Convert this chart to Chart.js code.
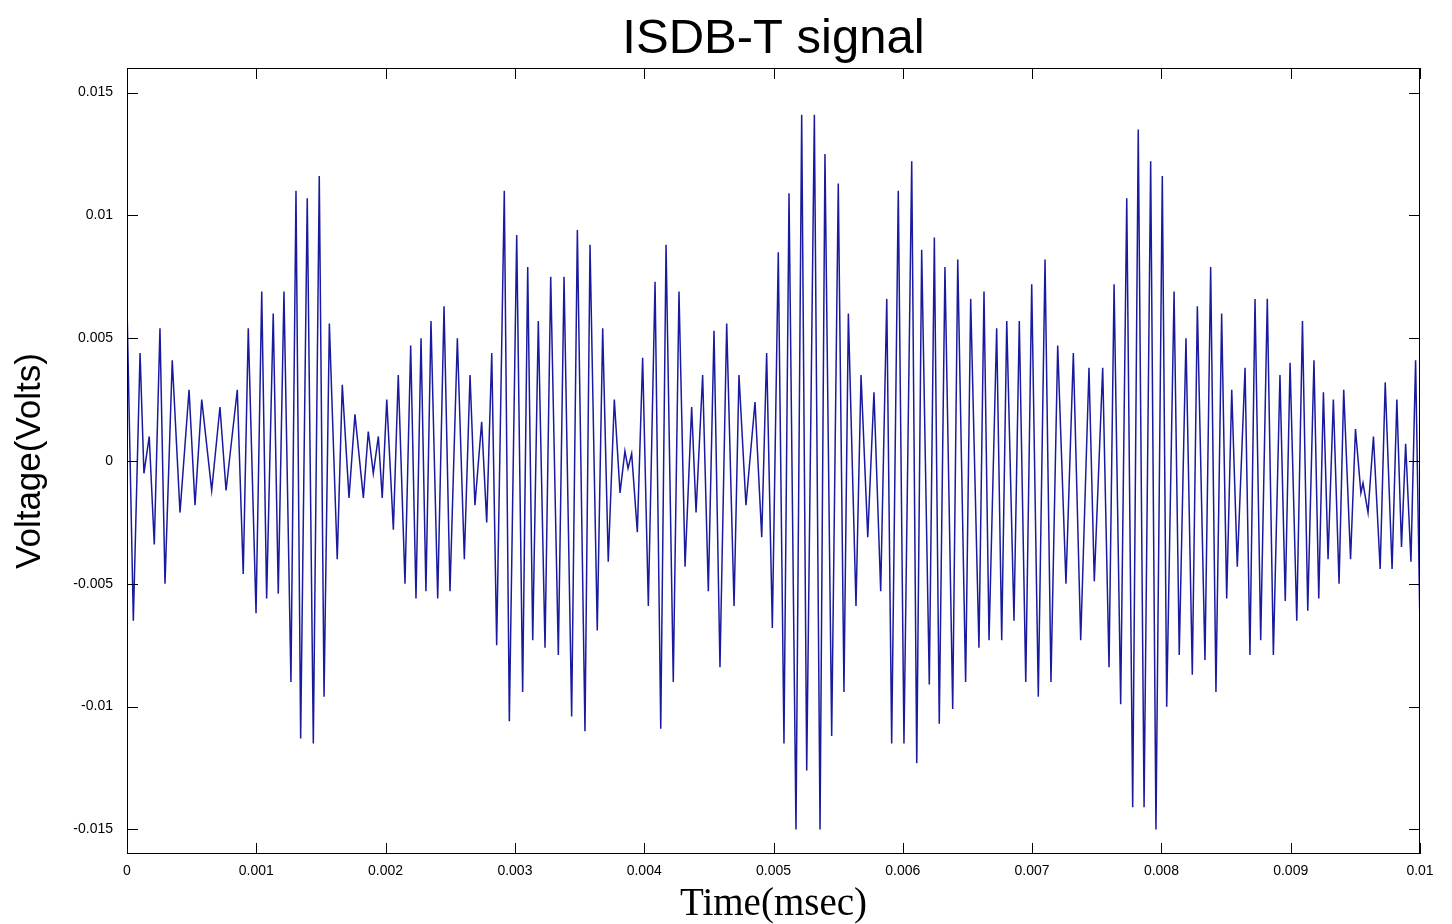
<!DOCTYPE html>
<html>
<head>
<meta charset="utf-8">
<title>ISDB-T signal</title>
<script src="https://cdn.jsdelivr.net/npm/chart.js@4/dist/chart.umd.min.js"></script>
<style>
  html, body { margin: 0; padding: 0; background: #fff; }
</style>
</head>
<body>
<canvas id="sinal" width="1452" height="924"></canvas>
<script>
  // extremos da forma de onda (tempo no eixo x, tensão em volts)
  var peakTimes = [
    0.000002, 0.000049, 0.000101, 0.000131, 0.000172, 0.000211, 0.000255, 0.000294, 0.000350, 0.000410,
    0.000480, 0.000526, 0.000578, 0.000655, 0.000719, 0.000766, 0.000853, 0.000899, 0.000938, 0.000998,
    0.001042, 0.001080, 0.001131, 0.001170, 0.001214, 0.001268, 0.001307, 0.001343, 0.001394, 0.001441,
    0.001487, 0.001524, 0.001565, 0.001626, 0.001665, 0.001717, 0.001763, 0.001828, 0.001866, 0.001905,
    0.001944, 0.001974, 0.002009,
    0.002060, 0.002098, 0.002150, 0.002194, 0.002235, 0.002274, 0.002312, 0.002351, 0.002403, 0.002452,
    0.002498, 0.002555, 0.002609, 0.002653, 0.002691, 0.002743, 0.002782, 0.002821, 0.002859, 0.002918,
    0.002957, 0.003014,
    0.003060, 0.003099, 0.003138, 0.003181, 0.003233, 0.003277, 0.003336, 0.003380, 0.003439, 0.003483,
    0.003542, 0.003581, 0.003637, 0.003679, 0.003722, 0.003769, 0.003813, 0.003851, 0.003875, 0.003903,
    0.003947, 0.003988, 0.004032,
    0.004084, 0.004128, 0.004169, 0.004225, 0.004269, 0.004316, 0.004367, 0.004401, 0.004452, 0.004496,
    0.004540, 0.004586, 0.004638, 0.004695, 0.004733, 0.004787, 0.004857, 0.004909, 0.004947, 0.004991,
    0.005037,
    0.005081, 0.005120, 0.005174, 0.005218, 0.005257, 0.005316, 0.005360, 0.005398, 0.005450, 0.005501,
    0.005545, 0.005579, 0.005638, 0.005677, 0.005729, 0.005777, 0.005829, 0.005876, 0.005914, 0.005965,
    0.006009,
    0.006069, 0.006108, 0.006146, 0.006205, 0.006244, 0.006282, 0.006326, 0.006386, 0.006425, 0.006486,
    0.006525, 0.006589, 0.006628, 0.006667, 0.006726, 0.006765, 0.006804, 0.006860, 0.006901, 0.006951,
    0.006997, 0.007048,
    0.007100, 0.007146, 0.007198, 0.007262, 0.007319, 0.007376, 0.007440, 0.007481, 0.007546, 0.007595,
    0.007634, 0.007685, 0.007732, 0.007778, 0.007821, 0.007866, 0.007917, 0.007958, 0.008007,
    0.008041, 0.008098, 0.008138, 0.008190, 0.008239, 0.008278, 0.008337, 0.008381, 0.008422, 0.008466,
    0.008505, 0.008544, 0.008587, 0.008647, 0.008685, 0.008724, 0.008768, 0.008819, 0.008866, 0.008917,
    0.008958, 0.008995, 0.009047,
    0.009091, 0.009132, 0.009180, 0.009217, 0.009253, 0.009289, 0.009330, 0.009374, 0.009410, 0.009463,
    0.009501, 0.009543, 0.009559, 0.009598, 0.009640, 0.009692, 0.009731, 0.009784, 0.009821, 0.009857,
    0.009889, 0.009930, 0.009966, 0.010000
  ];

  var peakVolts = [
    0.0058, -0.0065, 0.0044, -0.0005, 0.0010, -0.0034, 0.0054, -0.0050, 0.0041, -0.0021,
    0.0029, -0.0018, 0.0025, -0.0012, 0.0022, -0.0012, 0.0029, -0.0046, 0.0054, -0.0062,
    0.0069, -0.0056, 0.0060, -0.0054, 0.0069, -0.0090, 0.0110, -0.0113, 0.0107, -0.0115,
    0.0116, -0.0096, 0.0056, -0.0040, 0.0031, -0.0015, 0.0019, -0.0015, 0.0012, -0.0005,
    0.0010, -0.0015, 0.0025,
    -0.0028, 0.0035, -0.0050, 0.0047, -0.0056, 0.0050, -0.0053, 0.0057, -0.0056, 0.0063,
    -0.0053, 0.0050, -0.0040, 0.0035, -0.0018, 0.0016, -0.0025, 0.0044, -0.0075, 0.0110,
    -0.0106, 0.0092,
    -0.0094, 0.0079, -0.0073, 0.0057, -0.0076, 0.0075, -0.0079, 0.0075, -0.0104, 0.0094,
    -0.0110, 0.0088, -0.0069, 0.0054, -0.0041, 0.0025, -0.0013, 0.0004, -0.0003, 0.0003,
    -0.0029, 0.0042, -0.0059,
    0.0073, -0.0109, 0.0088, -0.0090, 0.0069, -0.0043, 0.0022, -0.0021, 0.0035, -0.0053,
    0.0053, -0.0084, 0.0056, -0.0059, 0.0035, -0.0018, 0.0024, -0.0031, 0.0044, -0.0068,
    0.0085,
    -0.0115, 0.0109, -0.0150, 0.0141, -0.0126, 0.0141, -0.0150, 0.0125, -0.0112, 0.0113,
    -0.0094, 0.0060, -0.0059, 0.0035, -0.0031, 0.0028, -0.0053, 0.0066, -0.0115, 0.0110,
    -0.0115,
    0.0122, -0.0123, 0.0086, -0.0091, 0.0091, -0.0107, 0.0079, -0.0101, 0.0082, -0.0090,
    0.0066, -0.0076, 0.0069, -0.0073, 0.0054, -0.0073, 0.0057, -0.0065, 0.0057, -0.0090,
    0.0072, -0.0096,
    0.0082, -0.0090, 0.0047, -0.0050, 0.0044, -0.0073, 0.0038, -0.0049, 0.0038, -0.0084,
    0.0072, -0.0099, 0.0107, -0.0141, 0.0135, -0.0141, 0.0122, -0.0150, 0.0116,
    -0.0100, 0.0069, -0.0079, 0.0050, -0.0087, 0.0063, -0.0081, 0.0079, -0.0094, 0.0060,
    -0.0056, 0.0029, -0.0043, 0.0038, -0.0079, 0.0066, -0.0073, 0.0066, -0.0079, 0.0035,
    -0.0057, 0.0040, -0.0065,
    0.0057, -0.0061, 0.0041, -0.0056, 0.0028, -0.0040, 0.0025, -0.0050, 0.0029, -0.0040,
    0.0013, -0.0013, -0.0009, -0.0021, 0.0010, -0.0044, 0.0032, -0.0044, 0.0025, -0.0035,
    0.0007, -0.0041, 0.0041, -0.0068
  ];

  var xTicks = [0, 0.001, 0.002, 0.003, 0.004, 0.005, 0.006, 0.007, 0.008, 0.009, 0.01];
  var yTicks = [-0.015, -0.01, -0.005, 0, 0.005, 0.01, 0.015];

  var pontos = peakTimes.map(function (t, i) {
    return { x: t, y: peakVolts[i] };
  });

  // marcas dos eixos para dentro, nos quatro lados, e a caixa do gráfico
  var marcasInternas = {
    id: 'marcasInternas',
    afterDraw: function (chart) {
      var c = chart.ctx, a = chart.chartArea, L = 11;
      var sx = chart.scales.x, sy = chart.scales.y;
      c.save();
      c.strokeStyle = '#000';
      c.lineWidth = 1;
      c.beginPath();
      sx.ticks.forEach(function (t) {
        var px = Math.round(sx.getPixelForValue(t.value)) + 0.5;
        c.moveTo(px, a.bottom); c.lineTo(px, a.bottom - L);
        c.moveTo(px, a.top); c.lineTo(px, a.top + L);
      });
      sy.ticks.forEach(function (t) {
        var py = Math.round(sy.getPixelForValue(t.value)) + 0.5;
        c.moveTo(a.left, py); c.lineTo(a.left + L, py);
        c.moveTo(a.right, py); c.lineTo(a.right - L, py);
      });
      c.stroke();
      c.strokeRect(a.left + 0.5, a.top + 0.5, a.right - a.left - 1, a.bottom - a.top - 1);
      c.restore();
    }
  };

  var fonteEixo = { family: "'Liberation Sans', Arial, sans-serif", size: 14 };

  var ctx = document.getElementById('sinal').getContext('2d');
  var grafico = new Chart(ctx, {
    type: 'line',
    data: {
      datasets: [{
        label: 'ISDB-T',
        data: pontos,
        borderColor: '#1a1a9e',
        borderWidth: 1.5,
        pointRadius: 0,
        tension: 0,
        fill: false
      }]
    },
    options: {
      responsive: false,
      animation: false,
      devicePixelRatio: 1,
      layout: { padding: { left: 0, right: 32, top: 0, bottom: 0 } },
      plugins: {
        legend: { display: false },
        tooltip: { enabled: false },
        title: {
          display: true,
          fullSize: false,
          text: 'ISDB-T signal',
          color: '#000',
          font: { family: "'Liberation Sans', Arial, sans-serif", size: 49, weight: 'normal', lineHeight: 1 },
          padding: { top: 15, bottom: 4 }
        }
      },
      scales: {
        x: {
          type: 'linear',
          min: 0,
          max: 0.01,
          grid: { display: false, drawTicks: false },
          border: { display: false },
          afterBuildTicks: function (axis) {
            axis.ticks = xTicks.map(function (v) { return { value: v }; });
          },
          afterFit: function (scale) { scale.height = 70; },
          ticks: {
            color: '#000',
            font: fonteEixo,
            padding: 9,
            autoSkip: false,
            maxRotation: 0,
            callback: function (v) { return String(v); }
          },
          title: {
            display: true,
            text: 'Time(msec)',
            color: '#000',
            font: { family: "'Liberation Serif', 'Times New Roman', serif", size: 39, lineHeight: 1 },
            padding: { top: 0, bottom: 0 }
          }
        },
        y: {
          min: -0.016,
          max: 0.016,
          grid: { display: false, drawTicks: false },
          border: { display: false },
          afterBuildTicks: function (axis) {
            axis.ticks = yTicks.map(function (v) { return { value: v }; });
          },
          afterFit: function (scale) { scale.width = 127; },
          ticks: {
            color: '#000',
            font: fonteEixo,
            padding: 14,
            autoSkip: false,
            callback: function (v) { return String(v); }
          },
          title: {
            display: true,
            text: 'Voltage(Volts)',
            color: '#000',
            font: { family: "'Liberation Sans', Arial, sans-serif", size: 35, lineHeight: 1 },
            padding: { top: 13, bottom: 0 }
          }
        }
      }
    },
    plugins: [marcasInternas]
  });
</script>
</body>
</html>
